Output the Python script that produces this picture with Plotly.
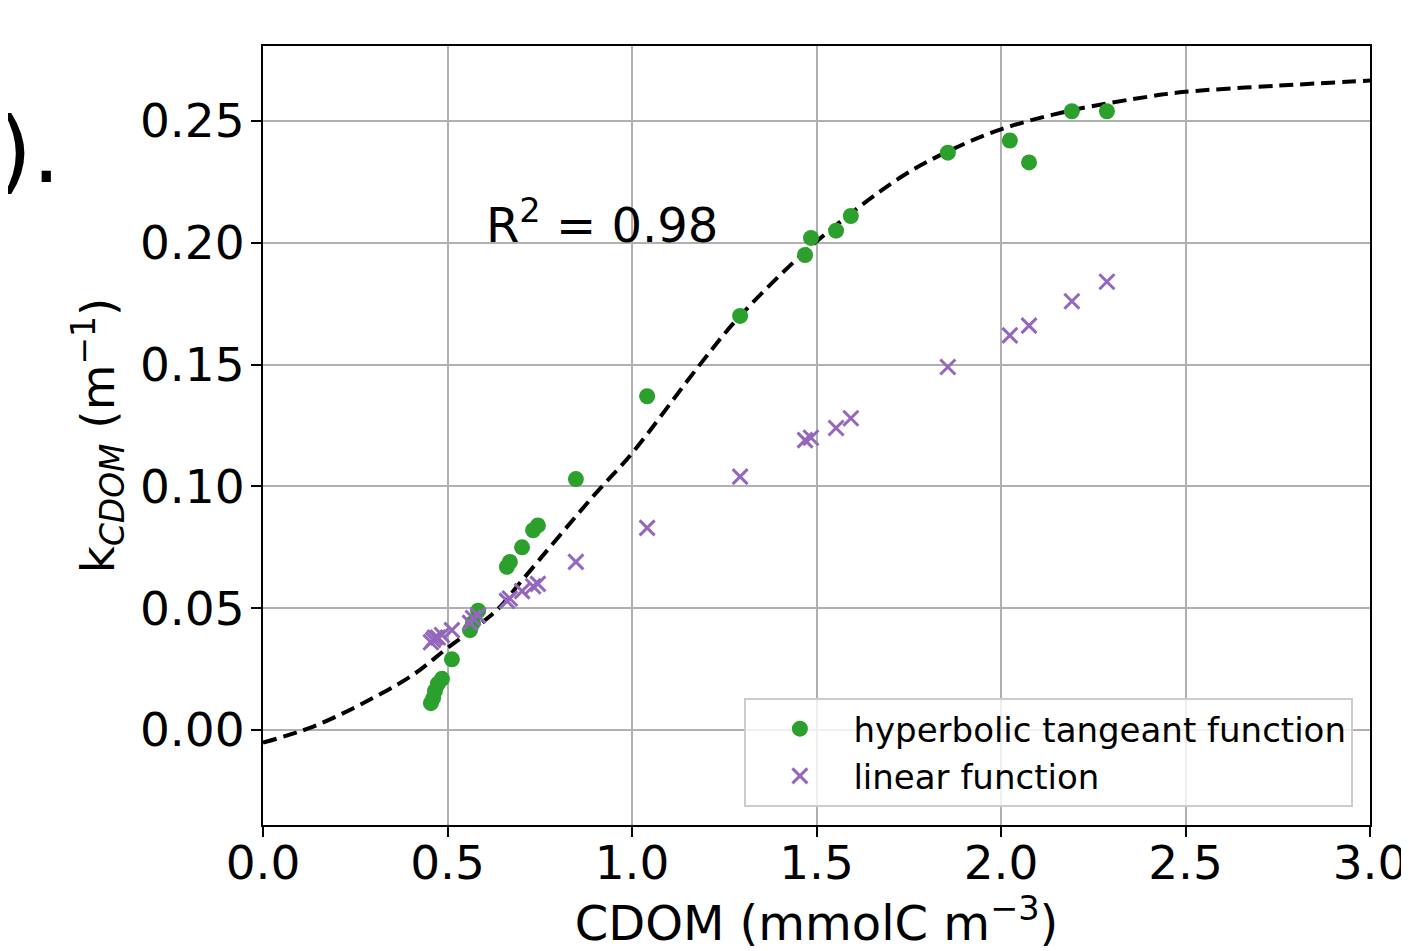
import plotly.graph_objects as go

# CDOM values (mmolC m-3)
cdom = [0.455, 0.461, 0.466, 0.474, 0.485, 0.512, 0.561, 0.569, 0.583, 0.661, 0.669,
        0.702, 0.732, 0.745, 0.848, 1.041, 1.293, 1.469, 1.485, 1.553, 1.593, 1.856,
        2.024, 2.076, 2.192, 2.287]
# k_CDOM from hyperbolic tangent function
k_tanh = [0.011, 0.013, 0.016, 0.019, 0.021, 0.029, 0.041, 0.044, 0.049, 0.067, 0.069,
          0.075, 0.082, 0.084, 0.103, 0.137, 0.170, 0.195, 0.202, 0.205, 0.211, 0.237,
          0.242, 0.233, 0.254, 0.254]
# k_CDOM from linear function
k_lin = [0.036, 0.037, 0.038, 0.038, 0.039, 0.041, 0.044, 0.046, 0.047, 0.053, 0.054,
         0.057, 0.059, 0.060, 0.069, 0.083, 0.104, 0.119, 0.120, 0.124, 0.128, 0.149,
         0.162, 0.166, 0.176, 0.184]
# fitted hyperbolic tangent curve
fit_x = [0.0, 0.136, 0.271, 0.406, 0.5, 0.632, 0.705, 0.895, 1.0, 1.184, 1.293, 1.5,
         1.726, 1.856, 2.0, 2.195, 2.404, 2.5, 2.75, 3.0]
fit_y = [-0.0052, 0.0014, 0.011, 0.0226, 0.0337, 0.049, 0.062, 0.096, 0.1136, 0.150,
         0.170, 0.2005, 0.2267, 0.2375, 0.2466, 0.2545, 0.2601, 0.262, 0.2645, 0.2666]

x_ticks = [0.0, 0.5, 1.0, 1.5, 2.0, 2.5, 3.0]
y_ticks = [0.00, 0.05, 0.10, 0.15, 0.20, 0.25]

FONT = "DejaVu Sans"

fig = go.Figure()
fig.add_trace(go.Scatter(
    x=fit_x, y=fit_y, mode="lines", line=dict(color="black", width=4, dash="14px,7px", shape="spline"),
    showlegend=False, hoverinfo="skip"))
fig.add_trace(go.Scatter(
    x=cdom, y=k_tanh, mode="markers", name="hyperbolic tangeant function",
    marker=dict(color="#2ca02c", size=16, line=dict(width=0))))
fig.add_trace(go.Scatter(
    x=cdom, y=k_lin, mode="markers", name="linear function",
    marker=dict(color="#9467bd", size=15, symbol="x-thin", line=dict(width=3, color="#9467bd"))))

fig.add_annotation(text="R<sup>2</sup> = 0.98", x=0.92, y=0.2086, xref="x", yref="y",
                   showarrow=False, font=dict(family=FONT, size=48, color="black"))
fig.add_annotation(text=").", x=-0.2425, y=0.866, xref="paper", yref="paper", xanchor="left",
                   yanchor="middle", showarrow=False, font=dict(family=FONT, size=90, color="black"))

axis_common = dict(showgrid=True, gridcolor="#b0b0b0", gridwidth=2, showline=True, linecolor="black",
                   linewidth=2, mirror=True, ticks="outside", ticklen=10, tickwidth=2, tickcolor="black",
                   tickfont=dict(family=FONT, size=47, color="black"), zeroline=False, automargin=False)

fig.update_xaxes(range=[0, 3.0], tickvals=x_ticks, ticktext=[f"{v:.1f}" for v in x_ticks],
                 ticklabelstandoff=-14,
                 title=dict(text="CDOM (mmolC m<sup>−3</sup>)", font=dict(family=FONT, size=48, color="black"),
                            standoff=13), **axis_common)
fig.update_yaxes(range=[-0.039, 0.2808], tickvals=y_ticks, ticktext=[f"{v:.2f}" for v in y_ticks],
                 ticklabelstandoff=-3,
                 title=dict(text="k<sub><i>CDOM</i></sub> (m<sup>−1</sup>)",
                            font=dict(family=FONT, size=47, color="black"), standoff=10), **axis_common)

# page body has an 8px margin, so the figure is sized/offset to land on the reference pixels
fig.update_layout(
    width=1401, height=943, margin=dict(l=255, r=39, t=38, b=126),
    paper_bgcolor="white", plot_bgcolor="white", font=dict(family=FONT, color="black"),
    legend=dict(x=0.985, y=0.023, xanchor="right", yanchor="bottom", bgcolor="rgba(255,255,255,0.8)",
                bordercolor="#cccccc", borderwidth=2, font=dict(family=FONT, size=34, color="black"),
                itemsizing="trace", itemwidth=97, tracegroupgap=0),
)

fig.write_html("out.html")
